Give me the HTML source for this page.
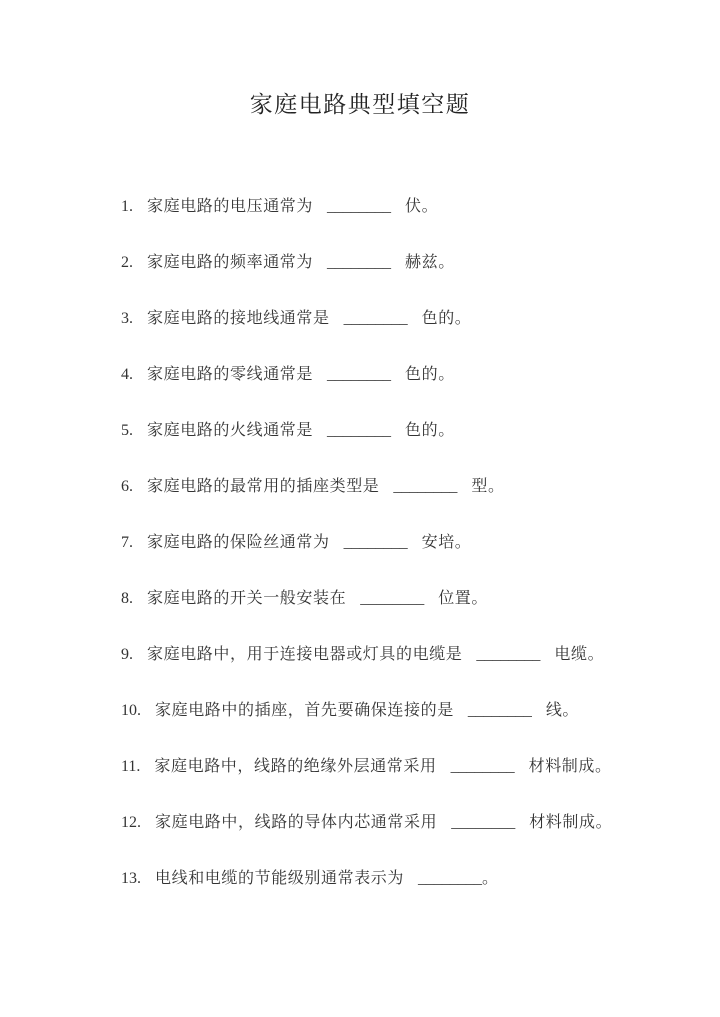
<!DOCTYPE html>
<html><head><meta charset="utf-8"><style>
body{margin:0;background:#fff;width:720px;height:1017px;position:relative;font-family:"Liberation Serif","Noto Serif CJK SC",serif;color:#333}
.t{position:absolute;top:86px;left:0;width:720px;text-align:center;font-size:23px;letter-spacing:1.5px;color:#222}
.l{position:absolute;left:121px;font-size:16px;white-space:pre;line-height:20px;letter-spacing:0.6px}
.l span{margin-right:14px;letter-spacing:0}
.l b{font-weight:normal;margin:0 14px;letter-spacing:0}
</style></head><body>
<div class="t">家庭电路典型填空题</div>
<div class="l" style="top:197px"><span>1.</span>家庭电路的电压通常为<b>________</b>伏。</div>
<div class="l" style="top:253px"><span>2.</span>家庭电路的频率通常为<b>________</b>赫兹。</div>
<div class="l" style="top:309px"><span>3.</span>家庭电路的接地线通常是<b>________</b>色的。</div>
<div class="l" style="top:365px"><span>4.</span>家庭电路的零线通常是<b>________</b>色的。</div>
<div class="l" style="top:421px"><span>5.</span>家庭电路的火线通常是<b>________</b>色的。</div>
<div class="l" style="top:477px"><span>6.</span>家庭电路的最常用的插座类型是<b>________</b>型。</div>
<div class="l" style="top:533px"><span>7.</span>家庭电路的保险丝通常为<b>________</b>安培。</div>
<div class="l" style="top:589px"><span>8.</span>家庭电路的开关一般安装在<b>________</b>位置。</div>
<div class="l" style="top:645px"><span>9.</span>家庭电路中，用于连接电器或灯具的电缆是<b>________</b>电缆。</div>
<div class="l" style="top:701px"><span>10.</span>家庭电路中的插座，首先要确保连接的是<b>________</b>线。</div>
<div class="l" style="top:757px"><span>11.</span>家庭电路中，线路的绝缘外层通常采用<b>________</b>材料制成。</div>
<div class="l" style="top:813px"><span>12.</span>家庭电路中，线路的导体内芯通常采用<b>________</b>材料制成。</div>
<div class="l" style="top:869px"><span>13.</span>电线和电缆的节能级别通常表示为<b style="margin-right:0">________</b>。</div>
</body></html>
